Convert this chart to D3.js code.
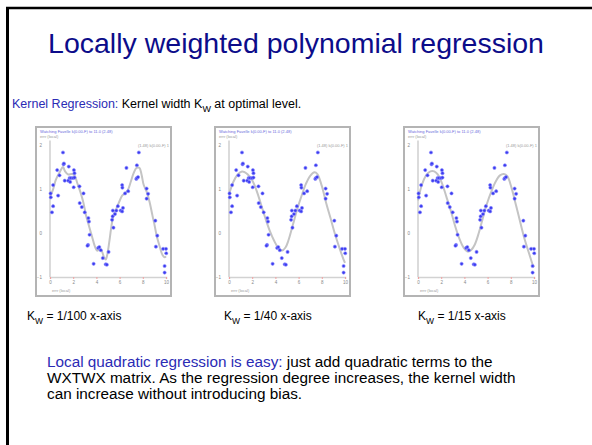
<!DOCTYPE html>
<html>
<head>
<meta charset="utf-8">
<script src="https://cdn.jsdelivr.net/npm/d3@7"></script>
<style>
  body { margin: 0; background: #fff; }
  svg { display: block; font-family: "Liberation Sans", Arial, sans-serif; }
</style>
</head>
<body>
<div id="slide"></div>
<script>
// ---- data ----
const xTicks = [0, 2, 4, 6, 8, 10];
const yTicks = [-1, 0, 1, 2];
const kernelLabels = ["1/100", "1/40", "1/15"];

// sample points (same in all three panels)
const pointsX = [0.05, 0.07, 0.27, 0.27, 0.17, 0.62, 0.70, 0.82, 1.12, 1.17, 1.20, 1.27, 1.57, 1.62, 1.69, 1.74,
  1.82, 1.99, 2.06, 2.11, 2.11, 2.04, 2.54, 2.89, 2.56, 2.74, 2.99, 3.31, 3.36, 3.41, 3.28, 3.23, 3.76, 4.15,
  4.25, 4.38, 4.55, 4.80, 4.90, 5.05, 5.42, 5.40, 5.35, 5.47, 5.60, 5.72, 5.85, 6.09, 6.22, 6.29, 6.22, 6.24,
  6.47, 6.59, 6.74, 7.44, 7.49, 7.59, 7.49, 7.66, 8.33, 8.46, 8.33, 9.08, 9.25, 9.13, 9.75, 10.0, 10.02, 9.88, 9.88];
const pointsY = [0.90, 0.81, 1.09, 0.61, 0.47, 1.43, 0.85, 1.31, 1.83, 1.56, 1.58, 1.19, 1.19, 1.51, 1.25, 1.16,
  1.25, 1.25, 1.43, 1.36, 1.26, 1.04, 1.06, 0.90, 0.68, 0.59, 0.47, 0.34, 0.26, -0.04, -0.27, -0.29, -0.70, -0.34,
  -0.32, -0.39, -0.57, -0.71, -0.72, -0.43, 0.51, 0.38, 0.30, 0.12, 0.43, 0.51, 0.61, 0.51, 0.49, 0.57, 1.09, 1.03,
  0.90, 1.48, 0.95, 1.23, 1.25, 1.27, 1.54, 1.83, 1.01, 0.89, 0.78, 0.28, -0.06, -0.31, -0.36, -0.36, -0.46, -0.75, -0.90];

// fitted curves, one per kernel width
const fit100 = [[0, 0.82], [0.25, 0.98], [0.5, 1.21], [0.87, 1.40], [1.12, 1.50], [1.3, 1.40], [1.57, 1.33],
  [1.87, 1.34], [2.11, 1.31], [2.36, 1.13], [2.61, 0.94], [2.86, 0.71], [3.11, 0.40], [3.36, 0.16], [3.61, -0.07],
  [3.86, -0.30], [4.05, -0.40], [4.30, -0.38], [4.48, -0.42], [4.65, -0.55], [4.80, -0.60], [4.93, -0.50],
  [5.10, -0.22], [5.30, 0.16], [5.47, 0.40], [5.72, 0.55], [5.97, 0.71], [6.22, 0.85], [6.47, 0.90], [6.72, 0.98],
  [6.97, 1.17], [7.21, 1.36], [7.46, 1.48], [7.71, 1.48], [7.89, 1.33], [8.08, 1.09], [8.33, 0.94], [8.58, 0.71],
  [8.83, 0.40], [9.03, 0.16], [9.20, -0.07], [9.45, -0.30], [9.70, -0.50], [9.88, -0.55], [10.0, -0.53]];
const fit40 = [[0, 0.88], [0.37, 1.16], [0.75, 1.33], [1.12, 1.40], [1.37, 1.38], [1.62, 1.33], [2.0, 1.20],
  [2.37, 0.97], [2.75, 0.66], [3.13, 0.34], [3.5, 0.06], [3.88, -0.17], [4.25, -0.34], [4.57, -0.40], [4.87, -0.33],
  [5.12, -0.17], [5.5, 0.18], [5.87, 0.53], [6.25, 0.84], [6.62, 1.11], [7.0, 1.30], [7.37, 1.38], [7.62, 1.34],
  [8.0, 1.07], [8.37, 0.69], [8.75, 0.34], [9.12, -0.01], [9.5, -0.32], [9.87, -0.60], [10.0, -0.68]];
const fit15 = [[0, 0.74], [0.33, 1.09], [0.7, 1.31], [1.07, 1.40], [1.4, 1.40], [1.7, 1.33], [2.07, 1.13],
  [2.45, 0.82], [2.82, 0.51], [3.2, 0.16], [3.57, -0.13], [3.95, -0.34], [4.25, -0.42], [4.57, -0.39], [4.9, -0.26],
  [5.25, 0.01], [5.57, 0.32], [5.95, 0.67], [6.32, 0.94], [6.7, 1.17], [7.07, 1.31], [7.4, 1.34], [7.7, 1.29],
  [8.07, 1.02], [8.45, 0.63], [8.82, 0.24], [9.2, -0.15], [9.57, -0.46], [9.9, -0.73], [10.0, -0.78]];
const fits = [fit100, fit40, fit15];

const points = pointsX.map((x, i) => ({ x: x, y: pointsY[i] }));

// ---- slide ----
const W = 592, H = 445;
const svg = d3.select("#slide").append("svg").attr("width", W).attr("height", H);

// slide border (top and left)
svg.append("line").attr("x1", 6).attr("x2", W).attr("y1", 8).attr("y2", 8)
  .attr("stroke", "#000").attr("stroke-width", 2.5);
svg.append("line").attr("x1", 7.5).attr("x2", 7.5).attr("y1", 7).attr("y2", H)
  .attr("stroke", "#000").attr("stroke-width", 3);

svg.append("text").attr("x", 296).attr("y", 53).attr("text-anchor", "middle")
  .attr("font-size", 28.5).attr("fill", "#0c0c8a")
  .text("Locally weighted polynomial regression");

let kline = svg.append("text").attr("x", 12).attr("y", 108).attr("font-size", 12.5).attr("fill", "#000");
kline.append("tspan").attr("fill", "#2b2bb5").text("Kernel Regression:");
kline.append("tspan").text(" Kernel width K");
kline.append("tspan").attr("font-size", 9).attr("dy", 3.5).text("W");
kline.append("tspan").attr("dy", -3.5).text(" at optimal level.");

// ---- panels ----
const panelLefts = [36, 215, 404];
const labelLefts = [27, 224, 418];
const panelTop = 127, panelW = 135, panelH = 169;

const x = d3.scaleLinear().domain([0, 10]).range([14, 130]);
const y = d3.scaleLinear().domain([-1, 2]).range([150, 18]);
const line = d3.line().x(d => x(d[0])).y(d => y(d[1])).curve(d3.curveCatmullRom);

fits.forEach((fit, i) => {
  const g = svg.append("g").attr("transform", `translate(${panelLefts[i]},${panelTop})`);

  g.append("rect").attr("width", panelW).attr("height", panelH)
    .attr("fill", "#fff").attr("stroke", "#b4b4b4").attr("stroke-width", 2);

  g.append("text").attr("x", 4).attr("y", 6).attr("font-size", 4).attr("fill", "#6a6adc")
    .text("Watching Favelle k(0.00-F) to 11.0 (2.48)");
  g.append("text").attr("x", 4).attr("y", 11).attr("font-size", 4).attr("fill", "#999")
    .text("errr (local)");
  g.append("text").attr("x", panelW - 2).attr("y", 20).attr("text-anchor", "end")
    .attr("font-size", 4).attr("fill", "#999").text("(1.48) k(0.00-F) 1");

  // axes
  const ax = g.append("g").attr("transform", `translate(0,${y(-1)})`)
    .call(d3.axisBottom(x).tickValues(xTicks).tickFormat(d3.format("d")).tickSize(2).tickPadding(2));
  const ay = g.append("g").attr("transform", `translate(${x(0)},0)`)
    .call(d3.axisLeft(y).tickValues(yTicks).tickFormat(d3.format("d")).tickSize(0).tickPadding(8));
  [ax, ay].forEach(a => {
    a.select(".domain").attr("stroke", "#d2d2d2").attr("stroke-width", 1.6);
    a.selectAll(".tick line").attr("stroke", "#f2a0a0");
    a.selectAll(".tick text").attr("font-size", 4.5).attr("fill", "#888")
      .attr("font-family", "Liberation Sans, Arial, sans-serif");
  });
  ay.select(".domain").attr("d", `M0,${y(2.1)}V${y(-1)}`);
  g.append("text").attr("x", 16).attr("y", panelH - 4).attr("font-size", 4).attr("fill", "#999")
    .text("errr (local)");

  g.append("path").datum(fit).attr("d", line)
    .attr("fill", "none").attr("stroke", "#c4c4c4").attr("stroke-width", 2);

  g.append("g").selectAll("circle").data(points).enter().append("circle")
    .attr("cx", d => x(d.x)).attr("cy", d => y(d.y)).attr("r", 1.6)
    .attr("fill", "#3b3bf0").attr("stroke", "#8c8cff").attr("stroke-width", 0.6);

  // kernel width label
  let t = svg.append("text").attr("x", labelLefts[i]).attr("y", 320).attr("font-size", 12).attr("fill", "#000");
  t.append("tspan").text("K");
  t.append("tspan").attr("font-size", 8.5).attr("dy", 3.5).text("W");
  t.append("tspan").attr("dy", -3.5).text(` = ${kernelLabels[i]} x-axis`);
});

// ---- bottom paragraph ----
const para = [
  [["Local quadratic regression is easy:", "#2b2bb5"], [" just add quadratic terms to the", "#000"]],
  [["WXTWX matrix. As the regression degree increases, the kernel width", "#000"]],
  [["can increase without introducing bias.", "#000"]]
];
para.forEach((parts, i) => {
  const t = svg.append("text").attr("x", 47).attr("y", 367 + i * 16).attr("font-size", 15.3);
  parts.forEach(p => t.append("tspan").attr("fill", p[1]).text(p[0]));
});
</script>
</body>
</html>
